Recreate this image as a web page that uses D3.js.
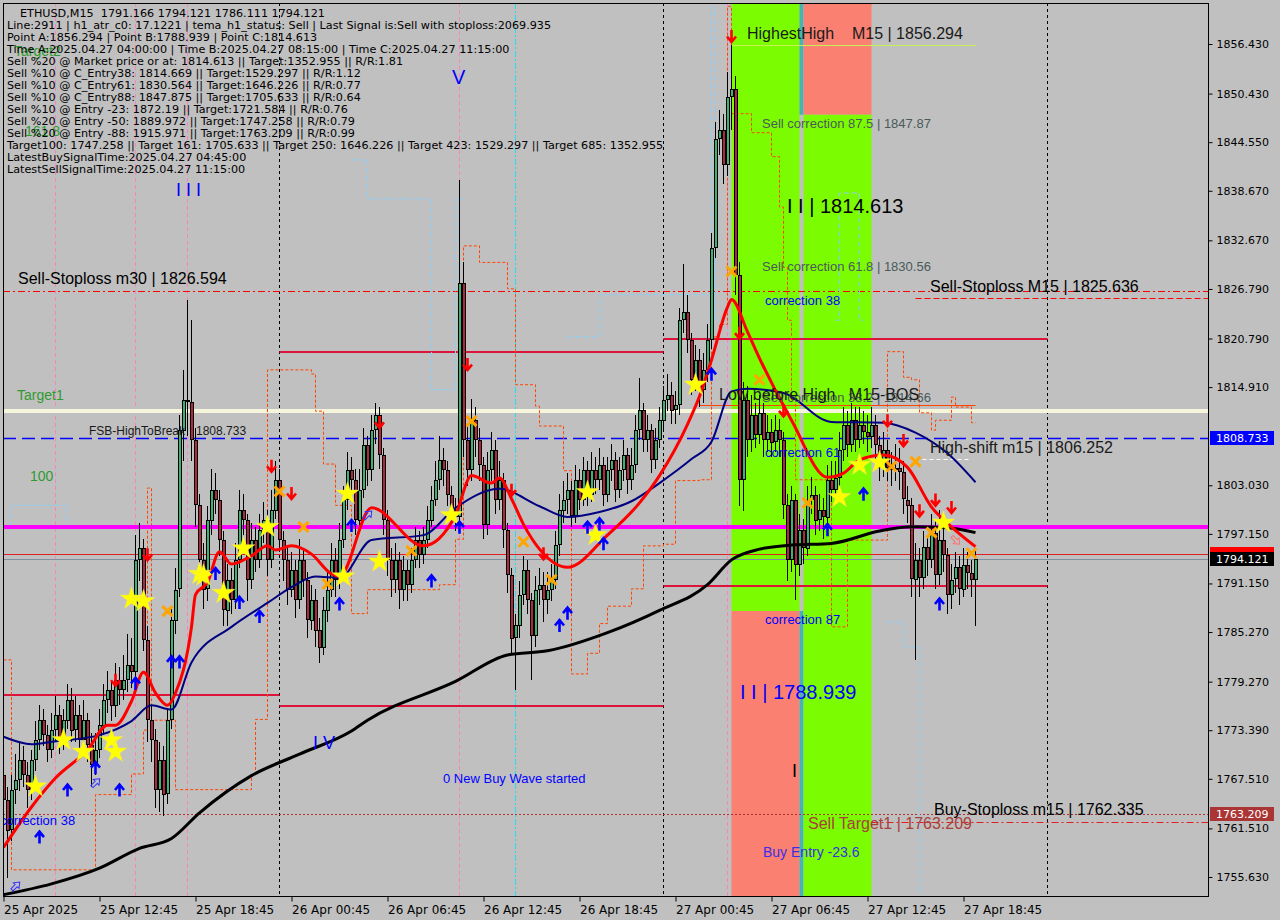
<!DOCTYPE html>
<html>
<head>
<meta charset="utf-8">
<title>ETHUSD,M15</title>
<script src="https://cdn.jsdelivr.net/npm/d3@7"></script>
<style>
  body { margin: 0; background: #c0c0c0; }
  svg { display: block; }
</style>
</head>
<body>
<script>
// ---------------- data ----------------
// ETHUSD M15 bars, 25 Apr 06:45 .. 27 Apr 19:30, open of a bar = previous close
var firstOpen = 1768.0;
var closes = [
  1765.0,1761.3,1766.2,1767.4,1769.8,1768.0,1766.2,1769.8,1772.2,1774.6,1772.8,1771.0,
  1773.4,1775.2,1772.2,1774.6,1777.1,1773.4,1775.2,1772.2,1774.6,1771.6,1769.2,1771.0,
  1774.0,1777.1,1778.3,1776.4,1779.5,1778.3,1779.5,1781.3,1780.4,1794.0,1795.4,1784.3,
  1774.6,1772.2,1766.2,1769.8,1765.6,1774.6,1786.7,1790.4,1809.7,1813.4,1813.1,1808.5,
  1800.6,1794.0,1790.4,1798.8,1802.5,1801.3,1796.4,1787.9,1791.6,1789.2,1794.0,1800.0,
  1798.8,1791.6,1796.4,1794.0,1797.6,1798.8,1794.0,1800.0,1803.7,1796.4,1794.0,1790.4,
  1792.8,1789.2,1794.0,1791.6,1786.7,1789.2,1785.5,1783.3,1787.9,1790.4,1794.0,1791.6,
  1796.4,1801.3,1804.9,1803.7,1798.8,1802.5,1807.9,1804.9,1809.7,1811.5,1806.7,1798.8,
  1794.0,1791.6,1794.0,1790.4,1792.8,1791.0,1794.0,1796.4,1794.6,1796.4,1798.8,1801.3,
  1803.7,1806.1,1804.9,1801.9,1800.0,1799.2,1827.5,1808.5,1804.9,1810.9,1808.5,1805.5,
  1798.2,1804.9,1807.3,1801.3,1803.7,1797.6,1792.2,1784.5,1786.1,1789.8,1792.8,1789.2,
  1784.8,1790.4,1791.0,1789.2,1790.4,1791.6,1795.8,1800.0,1801.3,1802.5,1799.4,1803.7,
  1801.3,1804.9,1801.9,1804.9,1803.7,1805.5,1801.9,1804.9,1806.1,1802.5,1804.9,1806.7,
  1803.7,1805.5,1809.7,1812.1,1808.5,1809.7,1806.1,1808.5,1810.9,1813.4,1814.0,1812.1,
  1812.7,1823.0,1824.0,1820.6,1815.8,1818.2,1814.6,1817.0,1820.6,1831.7,1844.9,1846.0,
  1841.8,1850.0,1851.0,1828.5,1803.7,1813.4,1808.5,1811.5,1809.1,1811.8,1808.5,1809.5,
  1808.2,1809.7,1808.5,1800.6,1794.0,1801.3,1793.4,1797.6,1795.4,1801.3,1801.9,1798.8,
  1800.0,1799.1,1803.7,1802.5,1803.9,1807.3,1810.3,1807.9,1810.9,1808.5,1810.3,1809.5,
  1808.9,1810.3,1807.9,1805.1,1807.3,1805.1,1804.9,1805.1,1804.6,1801.3,1800.6,1791.6,
  1794.0,1791.8,1795.6,1794.0,1797.3,1792.2,1796.4,1794.6,1789.8,1791.6,1793.1,1790.4,
  1793.4,1792.4,1791.6,1794.121
];
var highs = [
  1770.0,1766.5,1768.0,1770.5,1772.0,1771.5,1769.5,1771.0,1774.5,1776.5,1776.0,1774.0,
  1775.5,1777.5,1776.5,1776.0,1779.0,1778.5,1777.5,1776.5,1777.0,1775.5,1773.0,1773.0,
  1776.0,1779.0,1780.5,1779.5,1781.5,1781.0,1782.5,1785.0,1784.5,1797.0,1798.5,1796.5,
  1786.0,1776.5,1773.5,1772.0,1771.5,1776.0,1788.0,1793.0,1811.5,1817.0,1825.5,1823.0,
  1810.0,1802.0,1796.0,1800.5,1805.0,1804.5,1802.5,1797.5,1793.5,1793.0,1796.0,1802.5,
  1802.0,1799.5,1798.5,1798.0,1799.5,1801.0,1800.0,1802.5,1806.0,1805.0,1797.5,1795.5,
  1795.0,1794.0,1796.5,1795.5,1792.5,1791.0,1790.5,1787.0,1789.5,1792.5,1796.0,1795.5,
  1798.5,1803.0,1807.0,1806.5,1805.0,1805.0,1810.0,1809.0,1811.5,1813.0,1812.5,1807.5,
  1800.0,1795.5,1796.0,1795.0,1794.5,1794.0,1795.5,1798.0,1797.5,1798.0,1800.5,1803.0,
  1806.0,1809.0,1807.5,1806.0,1803.0,1801.5,1840.0,1830.0,1810.5,1813.5,1812.5,1810.0,
  1806.5,1807.0,1809.5,1808.5,1806.0,1804.5,1798.5,1793.0,1787.5,1791.5,1794.5,1794.0,
  1790.0,1792.0,1793.0,1792.5,1792.5,1793.5,1797.5,1802.0,1803.5,1804.5,1803.5,1805.5,
  1805.0,1806.5,1806.0,1807.0,1806.5,1807.5,1806.5,1806.5,1808.0,1807.0,1806.5,1808.5,
  1807.5,1807.5,1811.5,1816.0,1813.0,1811.5,1810.5,1810.0,1812.5,1815.0,1816.5,1815.5,
  1814.5,1824.5,1829.8,1826.0,1821.5,1820.0,1819.5,1819.0,1822.5,1833.5,1847.0,1848.5,
  1848.0,1853.0,1856.294,1852.5,1830.0,1815.5,1815.0,1814.0,1813.0,1814.0,1813.0,1811.5,
  1811.0,1811.5,1811.0,1809.5,1802.0,1803.0,1802.0,1799.5,1799.0,1803.0,1804.0,1803.0,
  1802.0,1801.5,1805.5,1806.0,1806.0,1809.5,1812.5,1812.0,1813.0,1812.5,1812.5,1812.0,
  1811.5,1812.5,1811.5,1809.0,1809.5,1808.5,1807.0,1808.0,1807.5,1806.0,1803.0,1801.5,
  1796.0,1795.5,1797.5,1797.0,1799.5,1799.0,1800.0,1798.0,1795.5,1793.5,1795.0,1794.5,
  1795.5,1795.0,1794.0,1795.5
];
var lows = [
  1756.0,1755.5,1760.0,1764.5,1766.0,1766.5,1764.0,1765.0,1768.5,1771.0,1771.5,1769.5,
  1770.0,1772.0,1770.5,1771.0,1773.5,1772.0,1772.0,1770.0,1771.0,1769.5,1766.5,1768.0,
  1770.0,1773.0,1775.5,1774.5,1775.0,1776.5,1777.0,1778.0,1778.5,1779.5,1791.5,1783.0,
  1772.0,1769.5,1764.0,1763.5,1763.0,1764.5,1773.5,1785.0,1789.5,1806.0,1809.0,1806.0,
  1798.0,1791.5,1788.0,1789.0,1797.0,1799.5,1794.5,1786.0,1786.0,1787.5,1788.0,1793.0,
  1797.0,1789.0,1790.5,1792.5,1793.0,1796.0,1792.0,1793.0,1799.0,1795.0,1791.5,1788.5,
  1789.5,1787.0,1788.0,1789.5,1784.5,1785.5,1783.5,1781.5,1782.5,1786.5,1789.5,1789.5,
  1790.5,1795.5,1800.0,1801.5,1797.0,1797.5,1801.5,1803.0,1803.5,1808.0,1805.0,1797.0,
  1792.0,1789.5,1790.0,1788.0,1789.0,1789.0,1790.0,1793.0,1793.0,1793.5,1795.5,1798.0,
  1800.5,1802.5,1803.0,1800.5,1798.5,1797.5,1798.5,1806.5,1803.0,1803.5,1806.5,1803.5,
  1796.5,1797.0,1803.5,1799.5,1800.0,1795.5,1790.0,1782.5,1778.3,1784.5,1788.5,1787.5,
  1779.5,1783.5,1788.5,1786.5,1787.5,1789.0,1790.5,1794.5,1798.5,1799.5,1798.0,1798.5,
  1800.0,1800.5,1800.5,1801.0,1802.0,1802.5,1800.5,1801.0,1803.5,1801.0,1801.5,1803.5,
  1802.0,1802.5,1804.5,1808.5,1807.0,1807.0,1804.5,1805.0,1807.5,1809.5,1812.0,1810.5,
  1810.5,1811.5,1821.5,1819.0,1814.0,1814.5,1812.5,1813.0,1815.5,1819.5,1830.5,1843.0,
  1839.5,1840.5,1846.0,1826.0,1800.5,1799.9,1806.5,1807.0,1807.5,1808.0,1806.5,1807.0,
  1806.5,1807.0,1806.5,1799.0,1791.5,1792.5,1789.2,1792.0,1793.5,1794.5,1799.5,1797.0,
  1797.5,1796.5,1798.0,1801.0,1801.5,1802.5,1806.0,1806.5,1807.0,1807.0,1807.5,1808.0,
  1807.0,1807.5,1806.0,1803.5,1804.0,1803.5,1803.0,1803.5,1802.5,1799.5,1798.5,1789.5,
  1781.9,1789.5,1790.5,1792.0,1793.0,1790.5,1791.0,1792.5,1787.5,1788.0,1790.0,1788.5,
  1789.5,1790.5,1789.5,1786.0
];

// moving averages, [bar index, price]
var redMA = [[0,1759.2],[7,1764.1],[13,1767.6],[21,1771.0],[26,1774.0],[28,1774.0],[32,1776.9],[35,1780.4],
  [38,1777.9],[41,1776.4],[43,1777.9],[47,1785.9],[48,1789.8],[51,1791.3],[54,1795.0],[57,1793.5],[62,1794.5],
  [66,1795.7],[68,1795.2],[72,1795.7],[77,1794.7],[82,1792.3],[84,1792.0],[92,1800.3],[105,1795.7],[113,1799.4],
  [117,1804.2],[122,1803.3],[124,1803.9],[127,1801.4],[130,1798.3],[134,1795.3],[141,1793.1],[151,1797.0],
  [159,1800.9],[164,1804.2],[171,1810.4],[174,1813.8],[177,1818.2],[181,1824.6],[182,1825.5],[186,1821.6],
  [189,1818.4],[197,1810.9],[206,1804.0],[210,1804.5],[214,1806.1],[220,1806.7],[226,1805.2],[232,1800.4],
  [237,1798.0],[243,1795.6]];
var navyMA = [[0,1772.6],[7,1771.7],[12,1772.0],[24,1772.8],[32,1774.5],[37,1776.4],[42,1775.9],[47,1781.6],
  [57,1785.9],[66,1788.8],[72,1790.7],[78,1792.0],[84,1791.8],[92,1796.4],[105,1797.0],[113,1800.3],[124,1802.6],
  [134,1800.5],[141,1799.2],[149,1799.8],[157,1801.1],[164,1803.3],[172,1806.2],[177,1808.3],[182,1814.4],
  [186,1814.7],[195,1814.2],[207,1810.7],[220,1810.6],[228,1809.4],[236,1806.9],[243,1803.4]];
var blackMA = [[0,1753.5],[12,1754.8],[24,1756.7],[34,1759.1],[42,1760.3],[49,1763.4],[62,1767.9],[74,1770.5],
  [87,1773.3],[91,1774.6],[113,1779.3],[126,1782.5],[136,1783.0],[151,1785.2],[164,1787.9],[176,1791.0],
  [182,1794.0],[189,1795.3],[197,1795.8],[207,1796.0],[219,1797.5],[227,1798.0],[236,1797.9],[243,1797.3]];

// stepped trailing lines
var orangeTrail = [[0,1781.9],[2,1756.5],[23,1765.6],[32,1768.1],[35,1773.4],[36,1802.7],[37,1774.6],[43,1766.2],
  [62,1767.9],[63,1774.7],[66,1817.0],[77,1816.5],[78,1812.0],[80,1805.6],[83,1800.6],[87,1787.5],[91,1790.4],
  [109,1791.0],[113,1796.5],[115,1832.0],[119,1830.0],[126,1826.8],[128,1815.2],[133,1812.6],[134,1810.2],
  [140,1804.8],[142,1780.2],[146,1782.7],[149,1786.3],[151,1788.4],[157,1790.5],[160,1795.7],[165,1795.9],
  [168,1803.6],[174,1803.7],[177,1821.0],[179,1822.5],[181,1861.0],[182,1848.0],[187,1845.7],[192,1842.8],
  [194,1836.7],[195,1829.4],[196,1823.0],[197,1813.4],[198,1803.7],[207,1785.9],[211,1796.4],[221,1819.2],
  [225,1816.1],[227,1815.8],[229,1811.8],[232,1809.7],[233,1810.9],[237,1813.7],[238,1812.5],[242,1810.6],[243,1810.6]];
var blueTrails = [
  [[0,1798.0],[2,1800.6],[15,1800.6],[16,1798.0],[23,1798.0]],
  [[87,1842.4],[91,1837.7],[106,1837.7],[107,1814.6],[112,1814.6],[113,1837.7],[115,1837.7]],
  [[141,1821.0],[147,1821.0],[149,1826.1],[176,1826.1],[177,1860.8],[178,1823.0],[179,1823.0]],
  [[208,1823.0],[209,1838.4],[214,1823.0],[215,1823.0]],
  [[221,1786.5],[225,1783.5],[228,1783.5],[229,1753.7],[230,1753.7]]
];

// signal marks, [bar index, price]
var starPts = [[8,1766.6],[15,1772.2],[20,1770.8],[27,1772.2],[28,1770.8],[32,1789.3],[35,1789.0],[49,1792.3],
  [50,1792.1],[55,1790.0],[60,1795.4],[66,1798.0],[85,1792.0],[86,1802.0],[94,1793.8],[112,1799.4],[146,1802.2],
  [148,1797.0],[173,1815.2],[209,1801.6],[214,1805.5],[219,1805.8],[235,1798.5]];
var crossPts = [[41,1787.8],[69,1802.3],[75,1798.0],[81,1791.1],[102,1795.1],[117,1810.8],[130,1796.2],[137,1791.6],
  [182,1828.9],[189,1815.8],[201,1800.9],[222,1805.3],[228,1805.9],[232,1797.3],[242,1794.8]];
var upPts = [[9,1760.4],[16,1766.1],[23,1768.8],[29,1766.1],[33,1779.0],[42,1781.6],[44,1781.6],[53,1792.3],
  [59,1788.8],[64,1787.1],[84,1788.6],[87,1798.1],[107,1791.4],[114,1797.9],[139,1786.0],[141,1787.5],[146,1797.9],
  [149,1798.3],[150,1795.9],[177,1816.4],[206,1797.6],[215,1801.9],[234,1788.6]];
var downPts = [[28,1779.5],[36,1794.7],[67,1805.4],[72,1802.1],[94,1810.7],[116,1817.7],[127,1802.5],[135,1794.8],
  [182,1857.4],[184,1821.5],[195,1812.1],[221,1810.9],[225,1808.5],[229,1800.0],[233,1801.3],[237,1800.4]];
var hollowPts = [[3,1754.5],[23,1767.0],[91,1799.4]];
var hollowPinkPts = [[238,1796.4]];

// levels
var magentaLevel = 1797.98, creamLevel = 1812.0, fsbLevel = 1808.733;
var slM30 = 1826.594, slM15 = 1825.636, sellTarget1 = 1763.209, buySlM15 = 1762.335;
var highestHigh = 1856.294, lowBeforeHigh = 1812.7, highShift = 1806.252;
var bidPrice = 1794.121, askPrice = 1794.75;
var dayLevels = [[0,69,1777.65],[69,165,1776.3],[69,165,1819.16],[165,261,1820.7],[165,261,1790.84]];
var zoneA = [182,199], zoneB = [200,217], zoneTop = 1847.87, zoneMid = 1787.82;
var daySepIdx = [69,165,261], pinkIdx = [13,33,46,114,181], cyanIdx = [128];

var priceTicks = [1856.430,1850.430,1844.550,1838.670,1832.670,1826.790,1820.790,1814.910,
  1803.030,1797.150,1791.150,1785.270,1779.270,1773.390,1767.510,1761.510,1755.630];
var timeIdx = [0,24,48,72,96,120,144,168,192,216,240];
var timeLabels = ["25 Apr 2025","25 Apr 12:45","25 Apr 18:45","26 Apr 00:45","26 Apr 06:45",
  "26 Apr 12:45","26 Apr 18:45","27 Apr 00:45","27 Apr 06:45","27 Apr 12:45","27 Apr 18:45"];

var infoLines = [
  "ETHUSD,M15  1791.166 1794.121 1786.111 1794.121",
  "Line:2911 | h1_atr_c0: 17.1221 | tema_h1_status: Sell | Last Signal is:Sell with stoploss:2069.935",
  "Point A:1856.294 | Point B:1788.939 | Point C:1814.613",
  "Time A:2025.04.27 04:00:00 | Time B:2025.04.27 08:15:00 | Time C:2025.04.27 11:15:00",
  "Sell %20 @ Market price or at: 1814.613 || Target:1352.955 || R/R:1.81",
  "Sell %10 @ C_Entry38: 1814.669 || Target:1529.297 || R/R:1.12",
  "Sell %10 @ C_Entry61: 1830.564 || Target:1646.226 || R/R:0.77",
  "Sell %10 @ C_Entry88: 1847.875 || Target:1705.633 || R/R:0.64",
  "Sell %10 @ Entry -23: 1872.19 || Target:1721.584 || R/R:0.76",
  "Sell %20 @ Entry -50: 1889.972 || Target:1747.258 || R/R:0.79",
  "Sell %20 @ Entry -88: 1915.971 || Target:1763.209 || R/R:0.99",
  "Target100: 1747.258 || Target 161: 1705.633 || Target 250: 1646.226 || Target 423: 1529.297 || Target 685: 1352.955",
  "LatestBuySignalTime:2025.04.27 04:45:00",
  "LatestSellSignalTime:2025.04.27 11:15:00"
];

// ---------------- chart ----------------
var width = 1280, height = 920;
var plotL = 3, plotT = 3, plotR = 1208, plotB = 896;
var sans = "'Liberation Sans', Arial, sans-serif";
var tah = "'DejaVu Sans', Tahoma, sans-serif";

// bar index -> x, 4 px per bar
var x = d3.scaleLinear().domain([0, 300]).range([3.5, 1203.5]);
var y = d3.scaleLinear().domain([1755.63, 1856.43]).range([877, 44]);

var svg = d3.select("body").append("svg")
    .attr("width", width)
    .attr("height", height);

svg.append("rect").attr("width", width).attr("height", height).attr("fill", "#c0c0c0");

svg.append("clipPath").attr("id", "plot")
  .append("rect")
    .attr("x", plotL).attr("y", plotT)
    .attr("width", plotR - plotL).attr("height", plotB - plotT);

var g = svg.append("g").attr("clip-path", "url(#plot)");

// coloured zones
function zone(i0, i1, pTop, pBot, fill) {
  var yt = pTop == null ? plotT : y(pTop);
  var yb = pBot == null ? plotB : y(pBot);
  g.append("rect")
    .attr("x", x(i0)).attr("y", yt)
    .attr("width", x(i1) - x(i0)).attr("height", yb - yt)
    .attr("fill", fill);
}
zone(zoneA[0], zoneA[1], null, zoneMid, "#7cfc00");
zone(zoneA[0], zoneA[1], zoneMid, null, "#fa8072");
zone(zoneA[1], zoneB[0], null, zoneTop, "#46b4b4");
zone(zoneA[1], zoneB[0], zoneMid, null, "#46b4b4");
zone(zoneB[0], zoneB[1], null, zoneTop, "#fa8072");
zone(zoneB[0], zoneB[1], zoneTop, null, "#7cfc00");

// vertical lines
function vline(i, color, dash, w) {
  g.append("line")
    .attr("x1", x(i)).attr("x2", x(i))
    .attr("y1", plotT).attr("y2", plotB)
    .attr("stroke", color).attr("stroke-width", w || 1)
    .attr("stroke-dasharray", dash);
}
pinkIdx.forEach(function(i) { vline(i, "#ff7fbf", "4,3"); });
cyanIdx.forEach(function(i) { vline(i, "#20e0f0", "6,2,2,2"); });
daySepIdx.forEach(function(i) { vline(i, "#000", "3,3"); });

// horizontal lines
function hline(p, i0, i1, color, w, dash) {
  var x1 = i0 == null ? plotL : x(i0);
  var x2 = i1 == null ? plotR : x(i1);
  var yy = Math.round(y(p)) + (w % 2 ? 0.5 : 0);
  g.append("line")
    .attr("x1", x1).attr("x2", x2)
    .attr("y1", yy).attr("y2", yy)
    .attr("stroke", color).attr("stroke-width", w)
    .attr("stroke-dasharray", dash || null);
}
hline(creamLevel, null, null, "#f5f5dc", 4);
hline(fsbLevel, null, null, "#0000ff", 1.4, "13,6");
hline(slM30, null, null, "#ff0000", 1, "7,3,2,3");
hline(slM15, 228, null, "#ff0000", 1, "6,3");
hline(sellTarget1, null, null, "#b03030", 1, "2,2");
hline(buySlM15, 217, null, "#e02020", 1, "7,3,2,3");
hline(highestHigh, 182, 243, "#c8f050", 1);
hline(lowBeforeHigh, 174, 243, "#ff4500", 1);
hline(highShift, 228, 242, "#ffffff", 1, "4,3");
hline(askPrice, null, null, "#e02020", 1);
hline(bidPrice, null, null, "#8090a0", 1);
dayLevels.forEach(function(d) { hline(d[2], d[0], d[1], "#dc143c", 2); });

// stepped trailing lines
var stepLine = d3.line()
    .x(function(d) { return x(d[0]); })
    .y(function(d) { return y(d[1]); })
    .curve(d3.curveStepAfter);
blueTrails.forEach(function(seg) {
  g.append("path").datum(seg)
    .attr("d", stepLine)
    .attr("fill", "none").attr("stroke", "#87cefa")
    .attr("stroke-width", 1).attr("stroke-dasharray", "5,3");
});
g.append("path").datum(orangeTrail)
  .attr("d", stepLine)
  .attr("fill", "none").attr("stroke", "#ff4500")
  .attr("stroke-width", 1).attr("stroke-dasharray", "3,2");

hline(magentaLevel, null, null, "#ff00ff", 4);

// candles: black 4px body with a 2px coloured core
var candles = closes.map(function(c, i) {
  return {i: i, o: i ? closes[i - 1] : firstOpen, h: highs[i], l: lows[i], c: c};
});
var cg = g.append("g").attr("shape-rendering", "crispEdges");
cg.selectAll(".wick")
    .data(candles)
  .enter().append("line")
    .attr("class", "wick")
    .attr("x1", function(d) { return x(d.i); })
    .attr("x2", function(d) { return x(d.i); })
    .attr("y1", function(d) { return y(d.h); })
    .attr("y2", function(d) { return y(d.l); })
    .attr("stroke", "#000").attr("stroke-width", 1);
cg.selectAll(".body")
    .data(candles)
  .enter().append("rect")
    .attr("class", "body")
    .attr("x", function(d) { return x(d.i) - 1.5; })
    .attr("width", 4)
    .attr("y", function(d) { return Math.round(y(Math.max(d.o, d.c))); })
    .attr("height", function(d) { return Math.max(2, Math.round(Math.abs(y(d.o) - y(d.c)))); })
    .attr("fill", "#000");
cg.selectAll(".core")
    .data(candles.filter(function(d) { return Math.abs(y(d.o) - y(d.c)) > 2.5; }))
  .enter().append("rect")
    .attr("class", "core")
    .attr("x", function(d) { return x(d.i) - 0.5; })
    .attr("width", 2)
    .attr("y", function(d) { return Math.round(y(Math.max(d.o, d.c))) + 1; })
    .attr("height", function(d) { return Math.round(Math.abs(y(d.o) - y(d.c))) - 2; })
    .attr("fill", function(d) { return d.c >= d.o ? "#3cb371" : "#b0283c"; });

// moving averages
var maLine = d3.line()
    .x(function(d) { return x(d[0]); })
    .y(function(d) { return y(d[1]); })
    .curve(d3.curveMonotoneX);
g.append("path").datum(blackMA).attr("d", maLine)
  .attr("fill", "none").attr("stroke", "#000").attr("stroke-width", 3);
g.append("path").datum(navyMA).attr("d", maLine)
  .attr("fill", "none").attr("stroke", "#000080").attr("stroke-width", 2);
g.append("path").datum(redMA).attr("d", maLine)
  .attr("fill", "none").attr("stroke", "#ff0000").attr("stroke-width", 3);

// signal marks
var mg = g.append("g");
mg.selectAll(".star").data(starPts).enter().append("path")
  .attr("d", d3.symbol().type(d3.symbolStar).size(160))
  .attr("transform", function(d) { return "translate(" + x(d[0]) + "," + y(d[1]) + ")"; })
  .attr("fill", "#ffff00").attr("stroke", "#f0e060").attr("stroke-width", 0.5);
mg.selectAll(".cross").data(crossPts).enter().append("path")
  .attr("d", "M-5,-5L5,5M5,-5L-5,5")
  .attr("transform", function(d) { return "translate(" + x(d[0]) + "," + y(d[1]) + ")"; })
  .attr("stroke", "#ffa500").attr("stroke-width", 3);
mg.selectAll(".up").data(upPts).enter().append("path")
  .attr("d", "M-4.5,-0.5L0,-6L4.5,-0.5M0,-6L0,6")
  .attr("transform", function(d) { return "translate(" + x(d[0]) + "," + y(d[1]) + ")"; })
  .attr("fill", "none").attr("stroke", "#0000ff").attr("stroke-width", 2.6);
mg.selectAll(".down").data(downPts).enter().append("path")
  .attr("d", "M-4.5,0.5L0,6L4.5,0.5M0,6L0,-6")
  .attr("transform", function(d) { return "translate(" + x(d[0]) + "," + y(d[1]) + ")"; })
  .attr("fill", "none").attr("stroke", "#ff0000").attr("stroke-width", 2.6);
var hollowArrow = "M0,-6L4,-1L1.5,-1L1.5,5L-1.5,5L-1.5,-1L-4,-1Z";
mg.selectAll(".hollow").data(hollowPts).enter().append("path")
  .attr("d", hollowArrow)
  .attr("transform", function(d) { return "translate(" + x(d[0]) + "," + y(d[1]) + ") rotate(45)"; })
  .attr("fill", "none").attr("stroke", "#3030ff").attr("stroke-width", 1);
mg.selectAll(".hollowPink").data(hollowPinkPts).enter().append("path")
  .attr("d", hollowArrow)
  .attr("transform", function(d) { return "translate(" + x(d[0]) + "," + y(d[1]) + ") rotate(135)"; })
  .attr("fill", "none").attr("stroke", "#ff7070").attr("stroke-width", 1);

// chart object labels
function label(t, px, py, size, color, family) {
  return g.append("text")
    .attr("x", px).attr("y", py)
    .attr("font-family", family || sans)
    .attr("font-size", size)
    .attr("fill", color)
    .style("white-space", "pre")
    .text(t);
}
var grey = "#4a5a5a", green = "#2f9a2f";
label("Target2", 14, 56, 14, green);
label("161.8", 25, 136, 14, green);
label("Sell-Stoploss m30 | 1826.594", 18, 284, 16, "#000");
label("Target1", 17, 400, 14, green);
label("100", 30, 481, 14, green);
label("FSB-HighToBreak", 89, 435, 12, "#1a1a1a");
label("1808.733", 196, 435, 12, "#1a1a1a");
label("HighestHigh    M15 | 1856.294", 747, 39, 16, "#1a1a1a");
label("Sell correction 87.5 | 1847.87", 762, 128, 13, grey);
label("I I | 1814.613", 787, 213, 20, "#000");
label("Sell correction 61.8 | 1830.56", 762, 271, 13, grey);
label("correction 38", 765, 305, 13, "#0000ff");
label("Sell-Stoploss M15 | 1825.636", 930, 292, 16, "#000");
label("Sell correction 38.2 | 1814.66", 762, 402, 13, grey);
label("Low before High   M15-BOS", 719, 400, 16, "#1a1a1a");
label("High-shift m15 | 1806.252", 930, 453, 16, "#1a1a1a");
label("correction 61", 765, 457, 13, "#0000ff");
label("correction 87", 765, 624, 13, "#0000ff");
label("I I | 1788.939", 740, 699, 20, "#0000ff");
label("I", 792, 777, 18, "#000");
label("0 New Buy Wave started", 443, 783, 13, "#0000ff");
label("Buy-Stoploss m15 | 1762.335", 934, 815, 16, "#000");
label("Sell Target1 | 1763.209", 808, 829, 16, "#a8403a");
label("Buy Entry -23.6", 763, 857, 14, "#3a2ee8");
label("I I I", 176, 196, 18, "#0000ff");
label("V", 452, 84, 20, "#0000ff");
label("I V", 313, 749, 18, "#0000ff");
label("correction 38", 0, 825, 13, "#0000ff");

// info block
var info = svg.append("g")
    .attr("font-family", tah)
    .attr("font-size", 11.2)
    .attr("fill", "#000");
info.selectAll("text")
    .data(infoLines)
  .enter().append("text")
    .attr("x", function(d, i) { return i === 0 ? 20 : 7; })
    .attr("y", function(d, i) { return 17 + 12 * i; })
    .style("white-space", "pre")
    .text(function(d) { return d; });

// frame
svg.append("rect")
  .attr("x", plotL + 0.5).attr("y", plotT + 0.5)
  .attr("width", plotR - plotL).attr("height", plotB - plotT)
  .attr("fill", "none").attr("stroke", "#000").attr("stroke-width", 1);

// price axis
var yAxis = svg.append("g")
    .attr("transform", "translate(" + (plotR + 0.5) + ",0)")
    .call(d3.axisRight(y).tickValues(priceTicks).tickFormat(d3.format(".3f")).tickSize(4).tickPadding(4));
yAxis.select(".domain").remove();
yAxis.selectAll("text").attr("font-family", tah).attr("font-size", 11).attr("fill", "#000");
yAxis.selectAll("line").attr("stroke", "#000");

// time axis
var xAxis = svg.append("g")
    .attr("transform", "translate(0," + (plotB + 0.5) + ")")
    .call(d3.axisBottom(x).tickValues(timeIdx)
      .tickFormat(function(d, i) { return timeLabels[i]; })
      .tickSize(5).tickPadding(4));
xAxis.select(".domain").remove();
xAxis.selectAll("text").attr("font-family", tah).attr("font-size", 12)
  .attr("fill", "#000").attr("text-anchor", "start").attr("dx", 0);
xAxis.selectAll("line").attr("stroke", "#000");

// price tags on the axis
function tag(p, bg, fg, showText) {
  var yy = Math.round(y(p));
  svg.append("rect")
    .attr("x", plotR + 2).attr("y", yy - 7)
    .attr("width", 64).attr("height", 14)
    .attr("fill", bg);
  if (showText) {
    svg.append("text")
      .attr("x", plotR + 8).attr("y", yy + 4)
      .attr("font-family", tah).attr("font-size", 11)
      .attr("fill", fg)
      .text(d3.format(".3f")(p));
  }
}
tag(fsbLevel, "#0000ff", "#fff", true);
tag(askPrice, "#ff0000", "#fff", false);
tag(bidPrice, "#000", "#fff", true);
tag(sellTarget1, "#aa3535", "#fff", true);
</script>
</body>
</html>
